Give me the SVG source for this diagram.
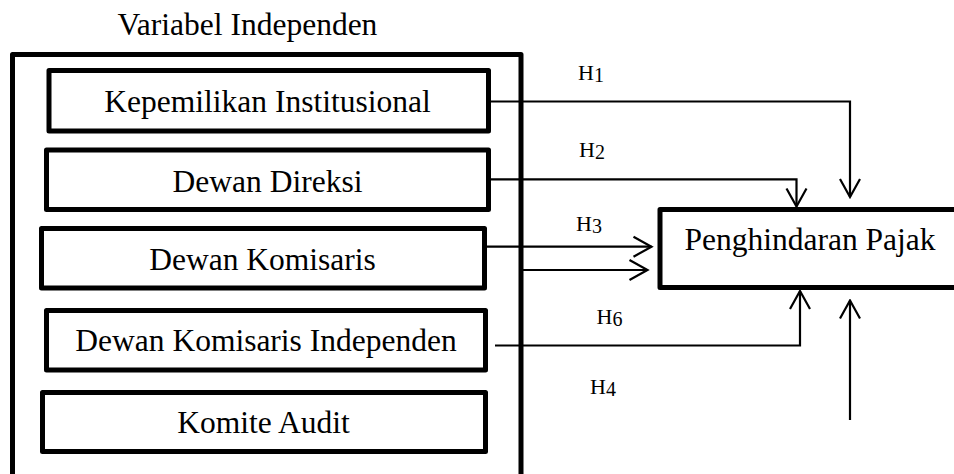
<svg xmlns="http://www.w3.org/2000/svg" width="954" height="474" viewBox="0 0 954 474">
<style>
.box{fill:#fff;stroke:#000;stroke-width:5;stroke-linejoin:round}
.outer{fill:none;stroke:#000;stroke-width:5;stroke-linejoin:round}
.t{font-family:"Liberation Serif","Times New Roman",serif;font-size:31.5px;fill:#000;text-anchor:middle}
.h{font-family:"Liberation Serif","Times New Roman",serif;font-size:22px;fill:#000}
.c{fill:none;stroke:#000;stroke-width:2.2}
</style>
<defs>
<marker id="arr" viewBox="-20 -12 22 24" markerWidth="22" markerHeight="24" refX="0" refY="0" orient="auto" markerUnits="userSpaceOnUse">
<path d="M-18,-10 L0,0 L-18,10" fill="none" stroke="#000" stroke-width="2.2"/>
</marker>
</defs>
<g id="group-title">
<text class="t" x="247.5" y="35">Variabel Independen</text>
<rect class="outer" x="12.5" y="54.5" width="508.5" height="440"/>
</g>
<g id="connectors">
<polyline class="c" points="490,101.5 850,101.5 850,197" marker-end="url(#arr)"/>
<polyline class="c" points="491,179.3 796.5,179.3 796.5,206.5" marker-end="url(#arr)"/>
<line class="c" x1="487" y1="246.7" x2="651.5" y2="246.7" marker-end="url(#arr)"/>
<line class="c" x1="521" y1="270" x2="647.5" y2="270" marker-end="url(#arr)"/>
<polyline class="c" points="495,345.5 800,345.5 800,291" marker-end="url(#arr)"/>
<line class="c" x1="850" y1="420" x2="850" y2="300.5" marker-end="url(#arr)"/>
</g>
<g id="labels">
<text class="h" x="578" y="80">H<tspan font-size="20" dy="1.7">1</tspan></text>
<text class="h" x="579" y="157">H<tspan font-size="20" dy="1.5">2</tspan></text>
<text class="h" x="576" y="231">H<tspan font-size="20" dy="1.7">3</tspan></text>
<text class="h" x="596.5" y="324.3">H<tspan font-size="20" dy="1.7">6</tspan></text>
<text class="h" x="590" y="394.3">H<tspan font-size="20" dy="2">4</tspan></text>
</g>
<g id="kepemilikan-institusional">
<rect class="box" x="49" y="70.5" width="439.5" height="60.5"/>
<text class="t" x="267.5" y="112">Kepemilikan Institusional</text>
</g>
<g id="dewan-direksi">
<rect class="box" x="46.5" y="150" width="442" height="59.5"/>
<text class="t" x="267.5" y="191.5">Dewan Direksi</text>
</g>
<g id="dewan-komisaris">
<rect class="box" x="41.5" y="228.5" width="443" height="59.5"/>
<text class="t" x="262.5" y="270">Dewan Komisaris</text>
</g>
<g id="dewan-komisaris-independen">
<rect class="box" x="46.5" y="310.5" width="439" height="59.5"/>
<text class="t" x="266" y="351">Dewan Komisaris Independen</text>
</g>
<g id="komite-audit">
<rect class="box" x="42.5" y="392.5" width="443" height="59"/>
<text class="t" x="263.5" y="432.5">Komite Audit</text>
</g>
<g id="penghindaran-pajak">
<rect class="box" x="660" y="209.5" width="300" height="78"/>
<text class="t" x="810" y="250">Penghindaran Pajak</text>
</g>
</svg>
